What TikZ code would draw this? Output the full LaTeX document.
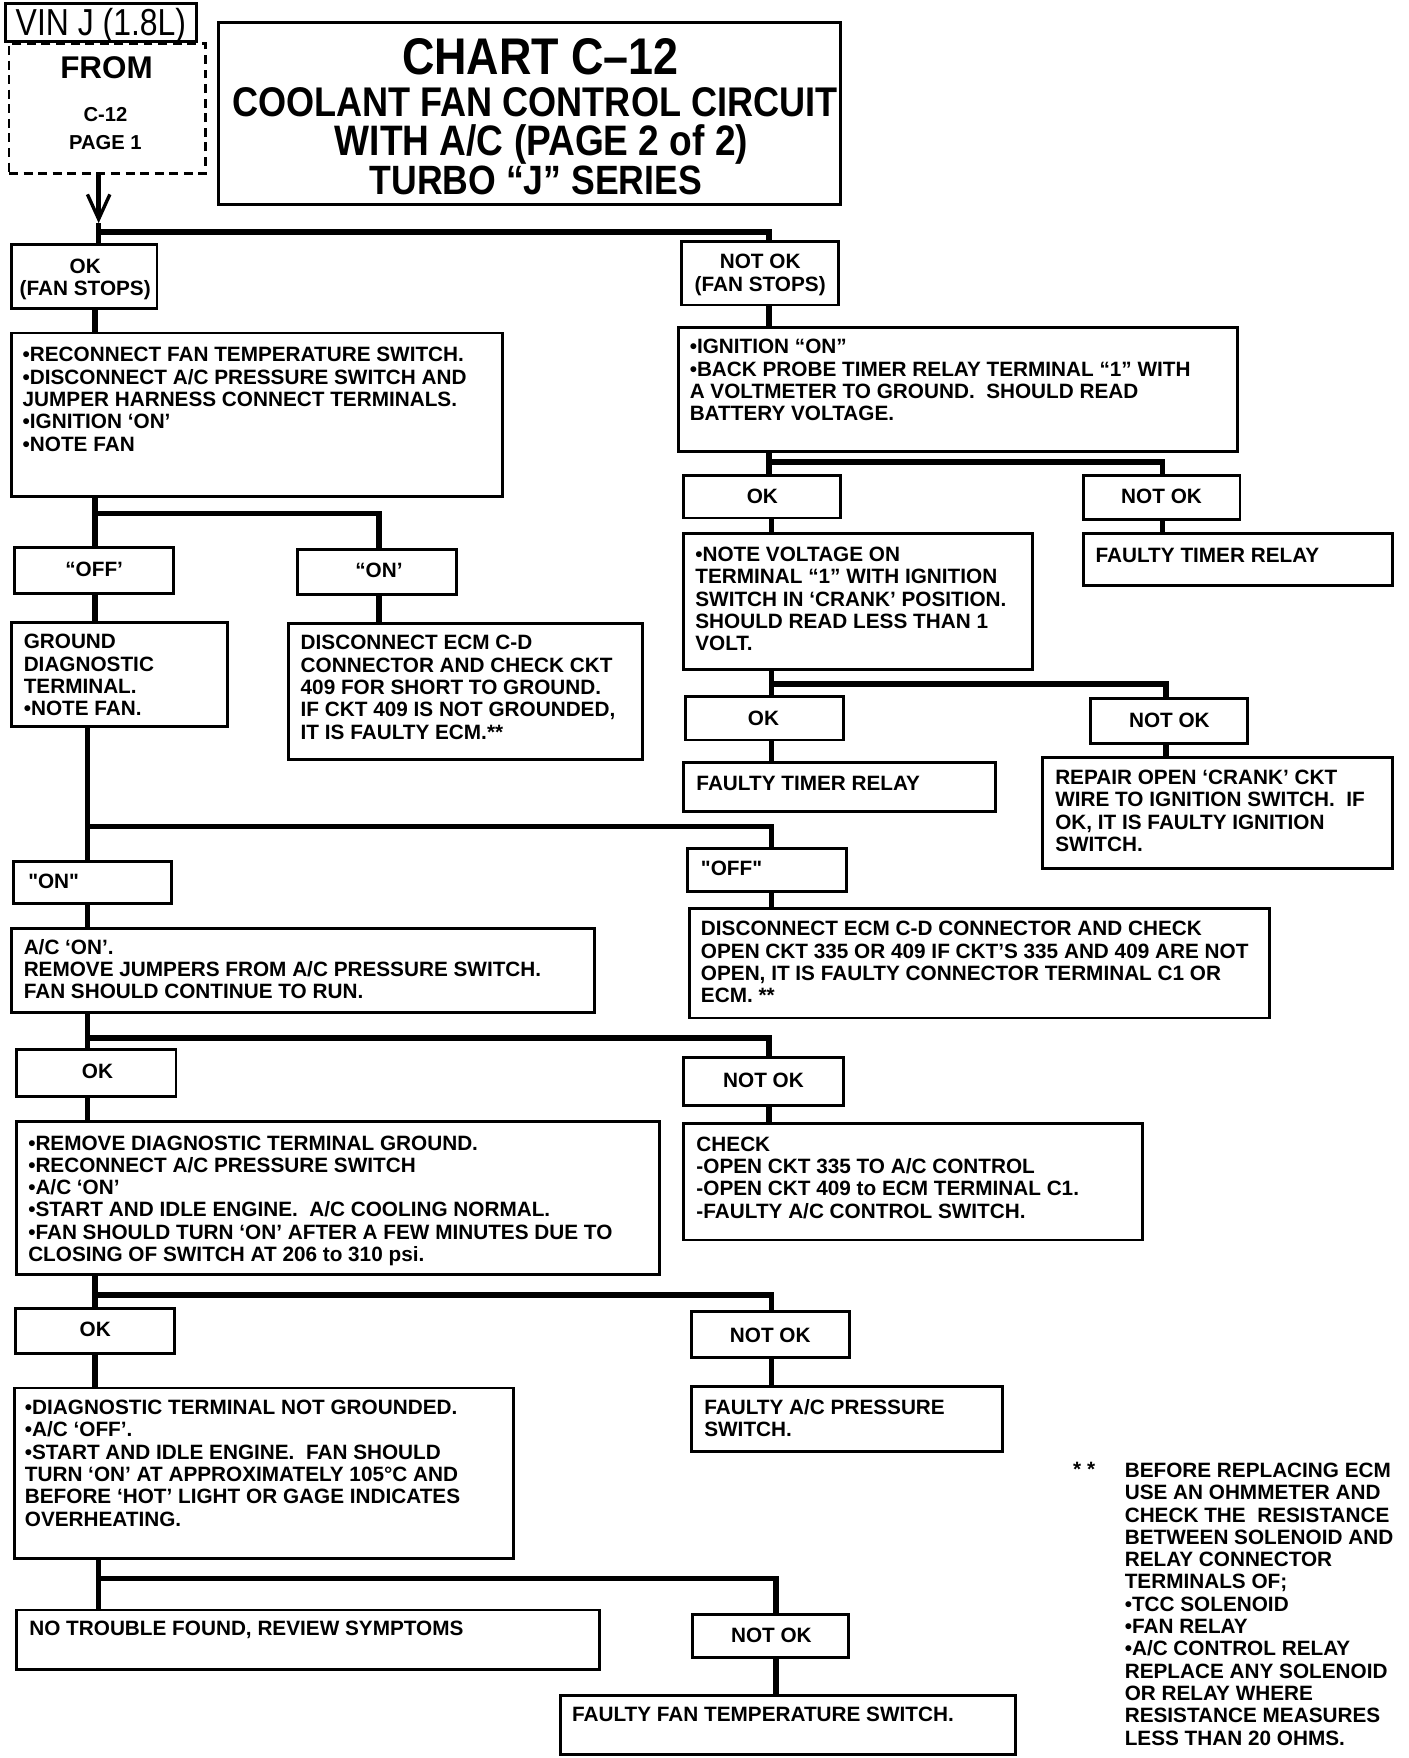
\documentclass[tikz,border=0pt]{standalone}
\usepackage{fontspec}
\setmainfont{Liberation Sans}
\newfontfamily\bodyfont{Liberation Sans}
\newfontfamily\titlefont[FakeStretch=0.87]{Liberation Sans}
\newfontfamily\vinfont[FakeStretch=0.85]{Liberation Sans}
\usetikzlibrary{arrows.meta,calc}
\newcommand\rbox[5]{\node[bx, minimum width={#4-#2}, minimum height={#5-#3}] (#1) at ({(#2+#4)/2},{(#3+#5)/2}) {};}
\newcommand\bul{•}
\begin{document}
\begin{tikzpicture}[x=1pt,y=-1pt,
 bx/.style={draw, line width=2.6pt, inner sep=0pt, outer sep=0pt},
 conn/.style={line width=5pt},
 txt/.style={anchor=north west, inner sep=0pt, align=left, font=\bodyfont\bfseries\fontsize{18.5}{19.9}\selectfont, execute at begin node={\rule{0pt}{14pt}}},
 ctxt/.style={txt, anchor=north, align=center},
 ttl/.style={anchor=base, inner sep=0pt, font=\titlefont\bfseries\fontsize{38}{38}\selectfont},
 frm/.style={anchor=base, inner sep=0pt, font=\bodyfont\bfseries\fontsize{18}{18}\selectfont},
]
\useasboundingbox (0,0) rectangle (1256,1568);
\fill[white] (0,0) rectangle (1256,1568);

% ---------- header ----------
\rbox{vin}{5}{3}{175}{37}
\node[anchor=base, inner sep=0pt, font=\vinfont\fontsize{33.5}{33.5}\selectfont] (vint) at (90,32) {VIN J (1.8L)};
\node[draw, dashed, dash pattern=on 8pt off 5pt, line width=2.5pt, inner sep=0pt, outer sep=0pt, minimum width=175, minimum height=116] (from) at (95.5,97) {};
\node[frm, font=\bodyfont\bfseries\fontsize{28}{28}\selectfont] (fromt) at (95,70) {FROM};
\node[frm] (fromc) at (94,108.5) {C-12};
\node[frm] (fromp) at (94,133.5) {PAGE 1};

\rbox{title}{195}{20}{750}{182}
\node[ttl, font=\titlefont\bfseries\fontsize{46}{46}\selectfont] (t1) at (482,66.5) {CHART C–12};
\node[ttl, font=\titlefont\bfseries\fontsize{37}{37}\selectfont] (t2) at (477,103.6) {COOLANT FAN CONTROL CIRCUIT};
\node[ttl] (t3) at (483,138.6) {WITH A/C (PAGE 2 of 2)};
\node[ttl, font=\titlefont\bfseries\fontsize{36.5}{36.5}\selectfont] (t4) at (478,173.6) {TURBO “J” SERIES};

% ---------- boxes ----------
\rbox{okfs}{10}{218}{140}{275}
\node[ctxt] (okfst) at (76,230.6) {OK\\(FAN STOPS)};
\rbox{nokfs}{608}{215}{748}{272}
\node[ctxt] (nokfst) at (678,226.6) {NOT OK\\(FAN STOPS)};

\rbox{recon}{10}{297}{448}{443}
\node[txt] (recont) at (20,309.6) {\bul RECONNECT FAN TEMPERATURE SWITCH.\\\bul DISCONNECT A/C PRESSURE SWITCH AND\\JUMPER HARNESS CONNECT TERMINALS.\\\bul IGNITION ‘ON’\\\bul NOTE FAN};

\rbox{ign}{605}{292}{1104}{403}
\node[txt] (ignt) at (615,302.6) {\bul IGNITION “ON”\\\bul BACK PROBE TIMER RELAY TERMINAL “1” WITH\\A VOLTMETER TO GROUND.\ \ SHOULD READ\\BATTERY VOLTAGE.};

\rbox{okA}{610}{424}{750}{462}
\node[ctxt] (okAt) at (680,434.6) {OK};
\rbox{nokA}{966}{424}{1106}{463}
\node[ctxt] (nokAt) at (1036,434.6) {NOT OK};
\rbox{ftrA}{966}{476}{1242}{522}
\node[txt] (ftrAt) at (977,487.6) {FAULTY TIMER RELAY};

\rbox{notev}{610}{476}{921}{597}
\node[txt] (notevt) at (620,487.6) {\bul NOTE VOLTAGE ON\\TERMINAL “1” WITH IGNITION\\SWITCH IN ‘CRANK’ POSITION.\\SHOULD READ LESS THAN 1\\VOLT.};

\rbox{okB}{611}{621}{752}{660}
\node[ctxt] (okBt) at (681,632.6) {OK};
\rbox{nokB}{973}{623}{1113}{663}
\node[ctxt] (nokBt) at (1043,634.6) {NOT OK};
\rbox{ftrB}{610}{680}{888}{724}
\node[txt] (ftrBt) at (621,690.6) {FAULTY TIMER RELAY};
\rbox{repair}{930}{676}{1242}{775}
\node[txt] (repairt) at (941,686.6) {REPAIR OPEN ‘CRANK’ CKT\\WIRE TO IGNITION SWITCH.\ \ IF\\OK, IT IS FAULTY IGNITION\\SWITCH.};

\rbox{offA}{13}{488}{155}{529}
\node[ctxt] (offAt) at (84,499.6) {“OFF’};
\rbox{onA}{265}{490}{407}{530}
\node[ctxt] (onAt) at (338,500.6) {“ON’};
\rbox{ground}{10}{555}{203}{648}
\node[txt] (groundt) at (21,565.6) {GROUND\\DIAGNOSTIC\\TERMINAL.\\\bul NOTE FAN.};
\rbox{discA}{257}{556}{573}{677}
\node[txt] (discAt) at (268,566.6) {DISCONNECT ECM C-D\\CONNECTOR AND CHECK CKT\\409 FOR SHORT TO GROUND.\\IF CKT 409 IS NOT GROUNDED,\\IT IS FAULTY ECM.**};

\rbox{onB}{12}{768}{153}{806}
\node[txt] (onBt) at (25,778.6) {"ON"};
\rbox{offB}{613}{757}{755}{795}
\node[txt] (offBt) at (625,766.6) {"OFF"};
\rbox{acon}{10}{828}{530}{903}
\node[txt] (acont) at (21,837.6) {A/C ‘ON’.\\REMOVE JUMPERS FROM A/C PRESSURE SWITCH.\\FAN SHOULD CONTINUE TO RUN.};
\rbox{discB}{615}{810}{1132}{908}
\node[txt] (discBt) at (625,821.6) {DISCONNECT ECM C-D CONNECTOR AND CHECK\\OPEN CKT 335 OR 409 IF CKT’S 335 AND 409 ARE NOT\\OPEN, IT IS FAULTY CONNECTOR TERMINAL C1 OR\\ECM. **};

\rbox{okC}{15}{936}{157}{978}
\node[ctxt] (okCt) at (87,947.6) {OK};
\rbox{nokC}{610}{943}{752}{986}
\node[ctxt] (nokCt) at (681,955.6) {NOT OK};
\rbox{remove}{15}{1000}{588}{1137}
\node[txt] (removet) at (25,1012.6) {\bul REMOVE DIAGNOSTIC TERMINAL GROUND.\\\bul RECONNECT A/C PRESSURE SWITCH\\\bul A/C ‘ON’\\\bul START AND IDLE ENGINE.\ \ A/C COOLING NORMAL.\\\bul FAN SHOULD TURN ‘ON’ AFTER A FEW MINUTES DUE TO\\CLOSING OF SWITCH AT 206 to 310 psi.};
\rbox{check}{610}{1002}{1019}{1106}
\node[txt] (checkt) at (621,1013.6) {CHECK\\-OPEN CKT 335 TO A/C CONTROL\\-OPEN CKT 409 to ECM TERMINAL C1.\\-FAULTY A/C CONTROL SWITCH.};

\rbox{okD}{14}{1167}{156}{1207}
\node[ctxt] (okDt) at (85,1177.6) {OK};
\rbox{nokD}{617}{1170}{758}{1211}
\node[ctxt] (nokDt) at (687,1183.6) {NOT OK};
\rbox{diag}{13}{1238}{458}{1390}
\node[txt] (diagt) at (22,1248.6) {\bul DIAGNOSTIC TERMINAL NOT GROUNDED.\\\bul A/C ‘OFF’.\\\bul START AND IDLE ENGINE.\ \ FAN SHOULD\\TURN ‘ON’ AT APPROXIMATELY 105°C AND\\BEFORE ‘HOT’ LIGHT OR GAGE INDICATES\\OVERHEATING.};
\rbox{fap}{617}{1237}{894}{1295}
\node[txt] (fapt) at (628,1247.6) {FAULTY A/C PRESSURE\\SWITCH.};

\rbox{ntf}{15}{1436}{535}{1489}
\node[txt] (ntft) at (26,1444.6) {NO TROUBLE FOUND, REVIEW SYMPTOMS};
\rbox{nokE}{618}{1440}{757}{1478}
\node[ctxt] (nokEt) at (688,1450.6) {NOT OK};
\rbox{fft}{500}{1512}{906}{1565}
\node[txt] (fftt) at (510,1521.6) {FAULTY FAN TEMPERATURE SWITCH.};

% footnote
\node[txt] (star) at (957,1302.6) {* *};
\node[txt] (note) at (1003,1304.6) {BEFORE REPLACING ECM\\USE AN OHMMETER AND\\CHECK THE\ \ RESISTANCE\\BETWEEN SOLENOID AND\\RELAY CONNECTOR\\TERMINALS OF;\\\bul TCC SOLENOID\\\bul FAN RELAY\\\bul A/C CONTROL RELAY\\REPLACE ANY SOLENOID\\OR RELAY WHERE\\RESISTANCE MEASURES\\LESS THAN 20 OHMS.};

% ---------- connectors ----------
\coordinate (jA) at (88,207);
\coordinate (jAt) at (88,199);
\coordinate (xR) at (686,0);
\draw[line width=4pt, -{Straight Barb[length=22pt,width=20pt,line width=3pt]}] (from.south -| jA) -- (jAt);
\draw[conn] (jAt) -- (jA) -| (nokfs.north -| xR);
\draw[conn] (jA) -- (okfs.north -| jA);
\coordinate (xL1) at (85,0);
\draw[conn] (okfs.south -| xL1) -- (recon.north -| xL1);
\draw[conn] (nokfs.south -| xR) -- (ign.north -| xR);

\coordinate (jB) at (686,412);
\coordinate (xR2) at (1037,0);
\draw[conn] (ign.south -| jB) -- (jB) -| (nokA.north -| xR2);
\draw[conn] (jB) -- (okA.north -| jB);
\coordinate (xR3) at (688,0);
\draw[conn] (okA.south -| xR3) -- (notev.north -| xR3);
\draw[conn] (nokA.south -| xR2) -- (ftrA.north -| xR2);

\coordinate (jC) at (688,610);
\coordinate (xR4) at (1040,0);
\draw[conn] (notev.south -| jC) -- (jC) -| (nokB.north -| xR4);
\draw[conn] (jC) -- (okB.north -| jC);
\draw[conn] (okB.south -| jC) -- (ftrB.north -| jC);
\draw[conn] (nokB.south -| xR4) -- (repair.north -| xR4);

\coordinate (jD) at (85,458);
\coordinate (xM) at (338,0);
\draw[conn] (recon.south -| jD) -- (jD) -| (onA.north -| xM);
\draw[conn] (jD) -- (offA.north -| jD);
\draw[conn] (offA.south -| jD) -- (ground.north -| jD);
\draw[conn] (onA.south -| xM) -- (discA.north -| xM);

\coordinate (jE) at (78,737);
\draw[conn] (ground.south -| jE) -- (jE) -| (offB.north -| xR3);
\draw[conn] (jE) -- (onB.north -| jE);
\draw[conn] (onB.south -| jE) -- (acon.north -| jE);
\draw[conn] (offB.south -| xR3) -- (discB.north -| xR3);

\coordinate (jF) at (78,926);
\draw[conn] (acon.south -| jF) -- (jF) -| (nokC.north -| xR);
\draw[conn] (jF) -- (okC.north -| jF);
\draw[conn] (okC.south -| jF) -- (remove.north -| jF);
\draw[conn] (nokC.south -| xR) -- (check.north -| xR);

\coordinate (jG) at (85,1155);
\draw[conn] (remove.south -| jG) -- (jG) -| (nokD.north -| xR3);
\draw[conn] (jG) -- (okD.north -| jG);
\draw[conn] (okD.south -| jG) -- (diag.north -| jG);
\draw[conn] (nokD.south -| xR3) -- (fap.north -| xR3);

\coordinate (jH) at (88,1408);
\coordinate (xR5) at (692,0);
\draw[conn] (diag.south -| jH) -- (jH) -| (nokE.north -| xR5);
\draw[conn] (jH) -- (ntf.north -| jH);
\draw[conn] (nokE.south -| xR5) -- (fft.north -| xR5);
\end{tikzpicture}
\end{document}
